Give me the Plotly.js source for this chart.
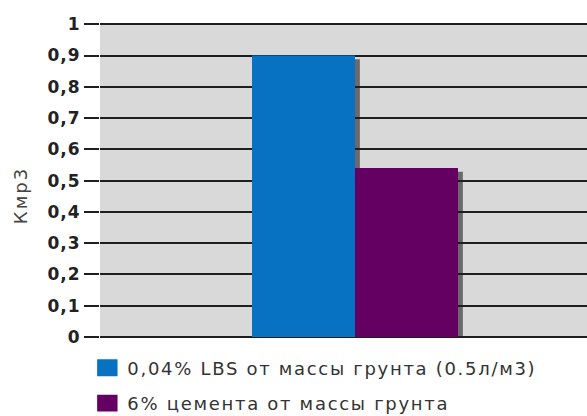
<!DOCTYPE html>
<html>
<head>
<meta charset="utf-8">
<script src="https://cdn.plot.ly/plotly-3.0.1.min.js"></script>
<style>
  html, body { margin: 0; padding: 0; background: #ffffff; }
  #chart { width: 587px; height: 416px; }
  /* wide lettering for the axis and legend texts */
  .ytick text { letter-spacing: 1px; }
  .legendtext { letter-spacing: 1.7px; }
  .annotation-text { letter-spacing: 2px; }
  /* larger legend swatches */
  .legendpoints path { transform: translate(20px, 0px) scale(1.7, 1.4); }
</style>
</head>
<body>
<div id="chart"></div>
<script>
// Coefficient Кмр3 for two soil stabilisation variants
const category = [''];
const seriesNames = [
  '0,04% LBS от массы грунта (0.5л/м3)',
  '6% цемента от массы грунта'
];
const lbsValues = [0.9];
const cementValues = [0.54];
const seriesColors = ['#0872c2', '#640062'];
const yTitle = 'Кмр3';
const yTickValues = [0, 0.1, 0.2, 0.3, 0.4, 0.5, 0.6, 0.7, 0.8, 0.9, 1];
const yTickLabels = ['0', '0,1', '0,2', '0,3', '0,4', '0,5', '0,6', '0,7', '0,8', '0,9', '1'];

const barGap = 0.577;
const seriesValues = [lbsValues, cementValues];

const traces = seriesValues.map((vals, i) => ({
  type: 'bar',
  name: seriesNames[i],
  x: category,
  y: vals,
  legendgroup: 'g' + i,
  marker: { color: seriesColors[i], line: { width: 0 } },
  hoverinfo: 'skip'
}));

// Soft drop shadow behind each bar, placed from the bar's own value
const barWidth = (1 - barGap) / seriesValues.length;
const shadowDx = 0.010;
const shadowDy = 0.012;
const shapes = [];
seriesValues.forEach((vals, i) => {
  vals.forEach((v, ci) => {
    const x0 = ci - (1 - barGap) / 2 + i * barWidth;
    shapes.push({
      type: 'rect', xref: 'x', yref: 'y', layer: 'below',
      x0: x0 + shadowDx, x1: x0 + barWidth + shadowDx,
      y0: -shadowDy, y1: v - shadowDy,
      fillcolor: 'rgba(30,30,30,0.6)', line: { width: 0 }
    });
  });
});

const layout = {
  width: 587,
  height: 416,
  margin: { l: 100, r: 0, t: 23, b: 79, autoexpand: false },
  paper_bgcolor: '#ffffff',
  plot_bgcolor: '#d9d9d9',
  separators: ', ',
  barmode: 'group',
  bargap: barGap,
  showlegend: true,
  font: { family: 'DejaVu Sans, Verdana, sans-serif', color: '#222' },
  xaxis: {
    type: 'category',
    range: [-0.5236, 0.4764],
    showticklabels: false,
    showgrid: false,
    zeroline: false,
    ticks: '',
    fixedrange: true
  },
  yaxis: {
    range: [0, 1.004],
    tickmode: 'array',
    tickvals: yTickValues,
    ticktext: yTickLabels.map(t => '<b>' + t + '</b>'),
    ticks: 'outside',
    ticklen: 15,
    tickwidth: 2,
    tickcolor: '#1e1e1e',
    showgrid: true,
    gridcolor: '#1e1e1e',
    gridwidth: 2,
    zeroline: true,
    zerolinecolor: '#1e1e1e',
    zerolinewidth: 2,
    showline: false,
    tickfont: { family: 'DejaVu Sans, Verdana, sans-serif', size: 17, color: '#222' },
    fixedrange: true
  },
  annotations: [{
    text: yTitle,
    xref: 'paper', yref: 'paper',
    x: -0.164, y: 0.449,
    xanchor: 'center', yanchor: 'middle',
    textangle: -90,
    showarrow: false,
    font: { family: 'DejaVu Sans, Verdana, sans-serif', size: 18, color: '#444' }
  }],
  legend: {
    x: -0.026,
    xanchor: 'left',
    y: -0.040,
    yanchor: 'top',
    orientation: 'v',
    traceorder: 'grouped',
    tracegroupgap: 9,
    bgcolor: 'rgba(0,0,0,0)',
    font: { family: 'DejaVu Sans, Verdana, sans-serif', size: 18, color: '#333' }
  },
  shapes: shapes
};

Plotly.newPlot('chart', traces, layout, { displayModeBar: false, staticPlot: true });
</script>
</body>
</html>
